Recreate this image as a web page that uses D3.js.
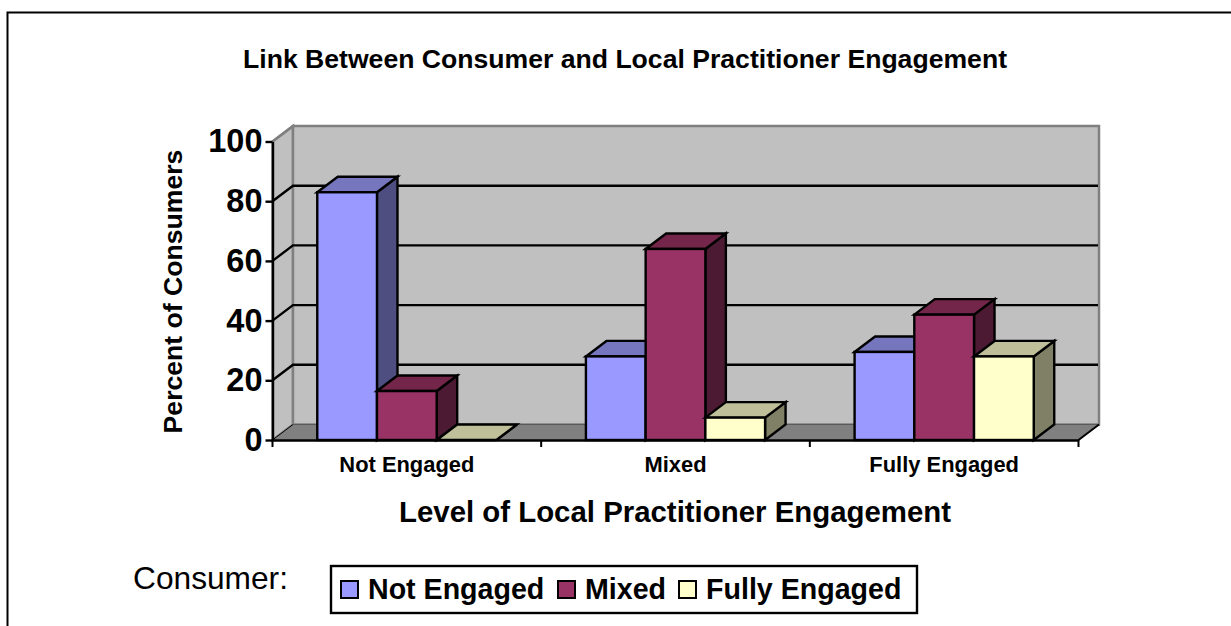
<!DOCTYPE html>
<html>
<head>
<meta charset="utf-8">
<script src="https://cdn.jsdelivr.net/npm/d3@7"></script>
<style>
  html, body { margin: 0; background: #fff; }
  svg { display: block; }
  text { font-family: "Liberation Sans", Arial, sans-serif; fill: #000; }
</style>
</head>
<body>
<div id="chart"></div>
<script>
const categories = ["Not Engaged", "Mixed", "Fully Engaged"]
const seriesNames = ["Not Engaged", "Mixed", "Fully Engaged"]
const notEngaged = [83, 28, 29.5]
const mixed = [16.4, 64, 42]
const fullyEngaged = [0, 7.5, 28]
const yTicks = [0, 20, 40, 60, 80, 100]
const seriesValues = [notEngaged, mixed, fullyEngaged]

const front = ["#9999ff", "#993366", "#ffffcc"]
const topFace = ["#7676bf", "#732649", "#bfbf99"]
const sideFace = ["#4e4e80", "#4d1a33", "#808066"]

const depthX = 20.5
const depthY = -15.5

const svg = d3.select("#chart").append("svg")
  .attr("width", 1231)
  .attr("height", 626)

const x0 = d3.scaleBand().domain(categories).range([272.5, 1078.5])
const x1 = d3.scaleBand().domain(seriesNames).range([0, x0.bandwidth() * 0.6668])
const y = d3.scaleLinear().domain([0, 100]).range([440, 141.5])

const poly = pts => pts.map(p => p.join(",")).join(" ")
const [xl, xr] = x0.range()

// page frame
svg.append("path")
  .attr("d", "M7.5,626V12.5H1231")
  .attr("fill", "none").attr("stroke", "#000").attr("stroke-width", 2)

// walls and floor
const walls = svg.append("g")
walls.append("polygon")
  .attr("points", poly([[xl, y(0)], [xl, y(100)], [xl + depthX, y(100) + depthY], [xl + depthX, y(0) + depthY]]))
  .attr("fill", "#c0c0c0").attr("stroke", "#808080").attr("stroke-width", 2.5)
walls.append("polygon")
  .attr("points", poly([[xl + depthX, y(0) + depthY], [xl + depthX, y(100) + depthY], [xr + depthX, y(100) + depthY], [xr + depthX, y(0) + depthY]]))
  .attr("fill", "#c0c0c0").attr("stroke", "#808080").attr("stroke-width", 2.5)
walls.append("polygon")
  .attr("points", poly([[xl, y(0)], [xl + depthX, y(0) + depthY], [xr + depthX, y(0) + depthY], [xr, y(0)]]))
  .attr("fill", "#808080")

// gridlines, along left wall then back wall
svg.append("g").selectAll("path")
  .data(yTicks.filter(d => d > 0 && d < 100))
  .join("path")
  .attr("d", d => `M${xl},${y(d)}L${xl + depthX},${y(d) + depthY}H${xr + depthX - 1}`)
  .attr("fill", "none").attr("stroke", "#000").attr("stroke-width", 2.4)

svg.append("path")
  .attr("d", `M${xl},${y(0)}L${xl + depthX},${y(0) + depthY}`)
  .attr("stroke", "#000").attr("stroke-width", 1)
svg.append("path")
  .attr("d", `M${xl + depthX},${y(0) + depthY}H${xr + depthX}`)
  .attr("stroke", "#5a5a5a").attr("stroke-width", 1)
svg.append("path")
  .attr("d", `M${xr},${y(0)}L${xr + depthX},${y(0) + depthY}`)
  .attr("stroke", "#000").attr("stroke-width", 2)
svg.append("path")
  .attr("d", `M${xl},${y(100)}L${xl + depthX},${y(100) + depthY}`)
  .attr("stroke", "#808080").attr("stroke-width", 2.5)

// bars, back to front within each group
const bars = []
categories.forEach((c, ci) => {
  seriesNames.forEach((s, si) => {
    bars.push({ category: c, series: s, si, value: seriesValues[si][ci] })
  })
})
const barOffset = (x0.bandwidth() - x1.range()[1]) / 2

const barG = svg.append("g").attr("stroke", "#000").attr("stroke-width", 2.4).attr("stroke-linejoin", "miter")
  .selectAll("g").data(bars).join("g")

const barLeft = d => x0(d.category) + barOffset + x1(d.series)
const barRight = d => barLeft(d) + x1.bandwidth()

barG.append("polygon")
  .attr("fill", d => sideFace[d.si])
  .attr("points", d => poly([[barRight(d), y(0)], [barRight(d), y(d.value)], [barRight(d) + depthX, y(d.value) + depthY], [barRight(d) + depthX, y(0) + depthY]]))
barG.append("polygon")
  .attr("fill", d => topFace[d.si])
  .attr("points", d => poly([[barLeft(d), y(d.value)], [barLeft(d) + depthX, y(d.value) + depthY], [barRight(d) + depthX, y(d.value) + depthY], [barRight(d), y(d.value)]]))
barG.append("rect")
  .attr("fill", d => front[d.si])
  .attr("x", barLeft)
  .attr("y", d => y(d.value))
  .attr("width", x1.bandwidth())
  .attr("height", d => y(0) - y(d.value))

// axes
const yAxis = d3.axisLeft(y).tickValues(yTicks).tickSize(7).tickSizeOuter(0).tickPadding(3)
const gy = svg.append("g").attr("transform", `translate(${xl},0)`).call(yAxis)
gy.selectAll("path, line").attr("stroke", "#000").attr("stroke-width", 2.4)
gy.selectAll("text").attr("font-size", 32.5).attr("font-weight", "bold")
  .attr("font-family", '"Liberation Sans", Arial, sans-serif')

const gx = svg.append("g").attr("transform", `translate(0,${y(0)})`)
  .call(d3.axisBottom(x0).tickSize(0).tickPadding(16))
gx.select("path").attr("stroke", "#000").attr("stroke-width", 2.4)
gx.selectAll("text").attr("font-size", 21.9).attr("font-weight", "bold")
  .attr("font-family", '"Liberation Sans", Arial, sans-serif')
gx.selectAll("line.edge")
  .data(d3.range(categories.length + 1))
  .join("line")
  .attr("class", "edge")
  .attr("x1", i => xl + i * x0.step())
  .attr("x2", i => xl + i * x0.step())
  .attr("y1", 0).attr("y2", 7)
  .attr("stroke", "#000").attr("stroke-width", 2)

// titles
svg.append("text").attr("x", 625).attr("y", 68).attr("text-anchor", "middle")
  .attr("font-size", 26.6).attr("font-weight", "bold")
  .text("Link Between Consumer and Local Practitioner Engagement")
svg.append("text").attr("x", 675).attr("y", 522).attr("text-anchor", "middle")
  .attr("font-size", 29.4).attr("font-weight", "bold")
  .text("Level of Local Practitioner Engagement")
svg.append("text").attr("transform", "translate(182,291.5) rotate(-90)").attr("text-anchor", "middle")
  .attr("font-size", 26.6).attr("font-weight", "bold")
  .text("Percent of Consumers")
svg.append("text").attr("x", 133).attr("y", 589)
  .attr("font-size", 31.7)
  .text("Consumer:")

// legend
const legend = svg.append("g")
legend.append("rect").attr("x", 331).attr("y", 566).attr("width", 586).attr("height", 47)
  .attr("fill", "#fff").attr("stroke", "#000").attr("stroke-width", 2.4)
const legendX = d3.scaleOrdinal().domain(seriesNames).range([341, 558, 679])
const item = legend.selectAll("g").data(seriesNames).join("g")
  .attr("transform", d => `translate(${legendX(d)},581)`)
item.append("rect").attr("width", 17).attr("height", 17)
  .attr("fill", (d, i) => front[i]).attr("stroke", "#000").attr("stroke-width", 2)
item.append("text").attr("x", 27).attr("y", 18)
  .attr("font-size", 28.6).attr("font-weight", "bold")
  .text(d => d)
</script>
</body>
</html>
